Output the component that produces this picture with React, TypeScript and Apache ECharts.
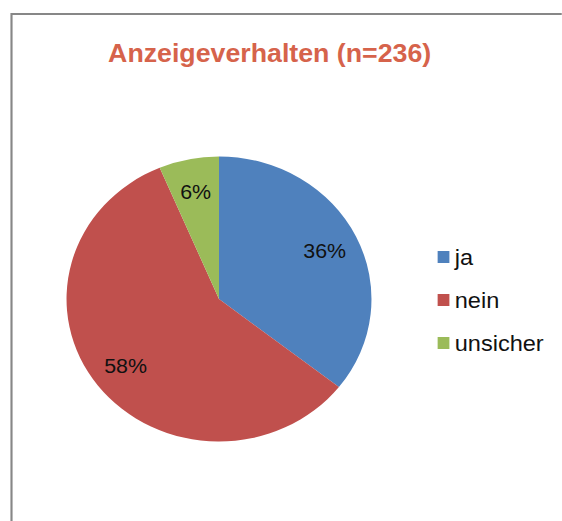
import React, { useEffect, useRef } from "react";
import * as echarts from "echarts";

const titleText = "Anzeigeverhalten (n=236)";
const categories = ["ja", "nein", "unsicher"];
const counts = [84, 137, 15];
const colors = ["#4F81BD", "#C0504D", "#9BBB59"];

const SX = 1.07; // source image is stretched horizontally
const W = 562 / SX;
const H = 521;

export default function App() {
  const ref = useRef<HTMLDivElement>(null);
  useEffect(() => {
    if (!ref.current) return;
    const chart = echarts.init(ref.current, undefined, { renderer: "svg" });
    const data = categories.map((name, i) => ({
      name,
      value: counts[i],
      itemStyle: { color: colors[i] },
    }));
    const R = 142.5;
    const center = [219 / SX, 299];
    chart.setOption({
      animation: false,
      backgroundColor: "#ffffff",
      title: {
        text: titleText,
        left: 101,
        top: 41,
        padding: 0,
        textStyle: {
          fontFamily: "Liberation Sans",
          fontWeight: "bold",
          fontSize: 25,
          color: "#D6634B",
          lineHeight: 25,
        },
      },
      legend: {
        orient: "vertical",
        left: 409,
        top: 246,
        padding: 0,
        icon: "rect",
        itemWidth: 11,
        itemHeight: 12,
        itemGap: 21,
        data: categories,
        textStyle: {
          fontFamily: "Liberation Sans",
          fontSize: 22,
          color: "#111",
          lineHeight: 22,
        },
      },
      graphic: [
        {
          type: "rect",
          shape: { x: 11.5 / SX, y: 14, width: 700, height: 700 },
          style: { fill: "none", stroke: "#878787", lineWidth: 2 },
          silent: true,
          z: -10,
        },
      ],
      series: [
        {
          type: "pie",
          center,
          radius: [0, R],
          startAngle: 90,
          clockwise: true,
          label: { show: false },
          labelLine: { show: false },
          emphasis: { disabled: true },
          data,
        },
        {
          type: "pie",
          center,
          radius: [R * 0.5, R],
          startAngle: 90,
          clockwise: true,
          silent: true,
          z: 5,
          itemStyle: { color: "rgba(0,0,0,0)" },
          label: {
            show: true,
            position: "inside",
            formatter: "{d}%",
            fontFamily: "Liberation Sans",
            fontSize: 20,
            color: "#111",
          },
          percentPrecision: 0,
          labelLine: { show: false },
          emphasis: { disabled: true },
          data: categories.map((name, i) => ({
            name,
            value: counts[i],
            itemStyle: { color: "rgba(0,0,0,0)" },
          })),
          legendHoverLink: false,
        },
      ],
    });
    return () => chart.dispose();
  }, []);
  return (
    <div
      style={{
        position: "fixed",
        left: 0,
        top: 0,
        width: 562,
        height: H,
        overflow: "hidden",
        background: "#fff",
      }}
    >
      <div
        ref={ref}
        style={{
          width: W,
          height: H,
          transform: `scaleX(${SX})`,
          transformOrigin: "0 0",
        }}
      />
    </div>
  );
}
